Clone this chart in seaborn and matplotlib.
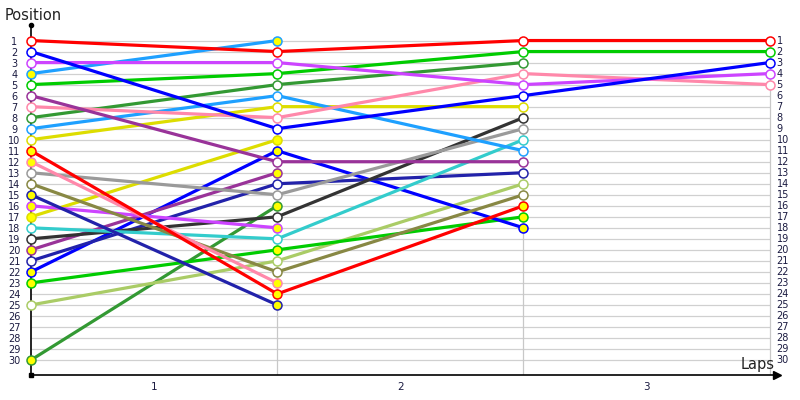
import matplotlib
matplotlib.use("Agg")
import matplotlib.pyplot as plt
import seaborn as sns
import pandas as pd

# ---------------- data ----------------
laps = [0, 1, 2, 3]
lap_tick_pos = [0.5, 1.5, 2.5]
lap_labels = ["1", "2", "3"]
positions = list(range(1, 31))

# one entry per driver (None = no longer in chart)
start_pos = [1, 2, 3, 4, 5, 6, 7, 8, 9, 10, 11, 12, 13, 14, 15, 16, 17, 18, 19, 20, 21, 22, 23, 25, 30]
lap1_pos = [2, 9, 3, 1, 4, 12, 8, 5, 6, 7, 24, 23, 15, 22, 25, 18, 10, 19, 17, 13, 14, 11, 20, 21, 16]
lap2_pos = [1, 6, 5, None, 2, 12, 4, 3, 11, 7, 16, None, 9, 15, None, None, None, 10, 8, None, 13, 18, 17, 14, None]
lap3_pos = [1, 3, 4, None, 2, None, 5, None, None, None, None, None, None, None, None, None, None, None, None, None, None, None, None, None, None]

colors = ["#ff0000", "#0000ff", "#cc44ff", "#1ea0ff", "#00cc00", "#993399", "#ff88aa", "#339933",
          "#1ea0ff", "#dddd00", "#ff0000", "#ff88aa", "#9a9a9a", "#888844", "#2222aa", "#cc44ff",
          "#dddd00", "#33cccc", "#333333", "#993399", "#2222aa", "#0000ff", "#00cc00", "#aacc66",
          "#339933"]
yellow_fill = [False, False, False, True, False, False, False, False, False, False, True, True,
               False, False, True, True, True, False, False, True, False, True, True, False, True]

rows = []
for i in range(len(colors)):
    for lap, plist in zip(laps, [start_pos, lap1_pos, lap2_pos, lap3_pos]):
        p = plist[i]
        if p is not None:
            rows.append(dict(driver=i, lap=lap, pos=p))
df = pd.DataFrame(rows)

# ---------------- plot ----------------
sns.set_theme(style="white")
plt.rcParams['font.family'] = ['DejaVu Sans']

fig = plt.figure(figsize=(8, 4), dpi=100)
ax = fig.add_axes([31 / 800, 25 / 400, (777 - 31) / 800, (375 - 25) / 400])
ax.set_xlim(0, 3.03)
ax.set_ylim(31.36, -0.41)

# grid
ax.hlines(positions, 0, 3, colors="#d0d0d0", lw=0.9, zorder=0)
ax.vlines(laps[1:], 1, 31.36, colors="#c8c8c8", lw=0.9, zorder=0)

palette = {i: c for i, c in enumerate(colors)}
order = list(range(len(colors)))[::-1]
sns.lineplot(data=df, x="lap", y="pos", hue="driver", hue_order=order, palette=palette,
             estimator=None, sort=False, legend=False, lw=2.3, ax=ax, zorder=2)

for i in range(len(colors)):
    sub = df[df.driver == i]
    ax.scatter(sub.lap, sub.pos, s=42, facecolor="#ffff00" if yellow_fill[i] else "white",
               edgecolor=colors[i], linewidth=1.1, zorder=3, clip_on=False)

# axes styling
for s in ["top", "right"]:
    ax.spines[s].set_visible(False)
for s in ["left", "bottom"]:
    ax.spines[s].set_color("black")
    ax.spines[s].set_linewidth(1.2)

tick_color = "#1a1a40"
ax.set_yticks(positions)
ax.set_yticklabels([str(p) for p in positions])
ax.tick_params(axis="y", length=0, pad=11.9, labelsize=7, labelcolor=tick_color)
for lbl in ax.get_yticklabels():
    lbl.set_horizontalalignment("center")
ax.set_xticks(lap_tick_pos)
ax.set_xticklabels(lap_labels)
ax.tick_params(axis="x", length=0, pad=5, labelsize=7.5, labelcolor=tick_color)
ax.set_xlabel("")
ax.set_ylabel("")

for p in positions:
    ax.annotate(str(p), xy=(3, p), xytext=(7, 0), textcoords="offset pixels",
                ha="left", va="center", fontsize=7, color=tick_color, annotation_clip=False)

# axis decorations
ax.plot([0], [1], marker="o", ms=3, color="black", transform=ax.transAxes, clip_on=False)
ax.plot([0], [0], marker="s", ms=2.5, color="black", transform=ax.transAxes, clip_on=False)
ax.plot([1], [0], marker=">", ms=6, color="black", transform=ax.transAxes, clip_on=False)

fig.text(5 / 800, 1 - 15 / 400, "Position", fontsize=10.5, va="center", ha="left", color="#222222")
fig.text(775 / 800, 1 - 364 / 400, "Laps", fontsize=10.5, va="center", ha="right", color="#222222")

fig.savefig("out.png", dpi=100)
